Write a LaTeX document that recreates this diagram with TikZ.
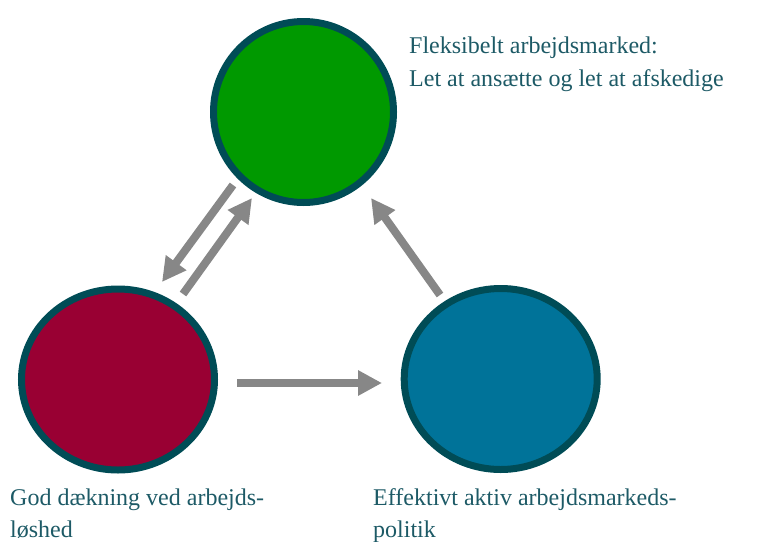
\documentclass[tikz,border=0pt]{standalone}
\usepackage{fontspec}
\setmainfont{Liberation Serif}
\usetikzlibrary{shapes.geometric,arrows.meta}
\definecolor{rim}{HTML}{004C56}
\definecolor{cgreen}{HTML}{009900}
\definecolor{cred}{HTML}{990033}
\definecolor{cblue}{HTML}{007399}
\definecolor{arrgray}{HTML}{878787}
\definecolor{txt}{HTML}{1D5A66}
\begin{document}
\begin{tikzpicture}[x=1pt,y=-1pt,
  blob/.style={ellipse,draw=rim,line width=7pt,inner sep=0pt},
  arr/.style={draw=arrgray,line width=8pt,-{Triangle[width=24pt,length=24pt]}},
  lbl/.style={anchor=base west,inner sep=0pt,text=txt,font=\fontsize{24}{33}\selectfont}]
\useasboundingbox (0,0) rectangle (759,541);
\node[blob,fill=cgreen,minimum width=180pt,minimum height=181pt] (green) at (303.5,112) {};
\node[blob,fill=cred,minimum width=193pt,minimum height=181pt] (red) at (118,379.5) {};
\node[blob,fill=cblue,minimum width=193pt,minimum height=181pt] (blue) at (500.7,379) {};
\coordinate (a1s) at (233,185);
\coordinate (a1e) at (162,282);
\coordinate (a2s) at (183,294);
\coordinate (a2e) at (252,198);
\coordinate (a3s) at (440,295);
\coordinate (a3e) at (371,198);
\coordinate (a4s) at (237,383);
\coordinate (a4e) at (382,383);
\draw[arr] (a1s) -- (a1e);
\draw[arr] (a2s) -- (a2e);
\draw[arr] (a3s) -- (a3e);
\draw[arr] (a4s) -- (a4e);
\node[lbl] (t1) at (409,53) {Fleksibelt arbejdsmarked:};
\node[lbl] (t2) at (409,86.5) {Let at ansætte og let at afskedige};
\node[lbl] (t3) at (10,505) {God dækning ved arbejds-};
\node[lbl] (t4) at (10,537) {løshed};
\node[lbl] (t5) at (373,505) {Effektivt aktiv arbejdsmarkeds-};
\node[lbl] (t6) at (373,537) {politik};
\end{tikzpicture}
\end{document}
